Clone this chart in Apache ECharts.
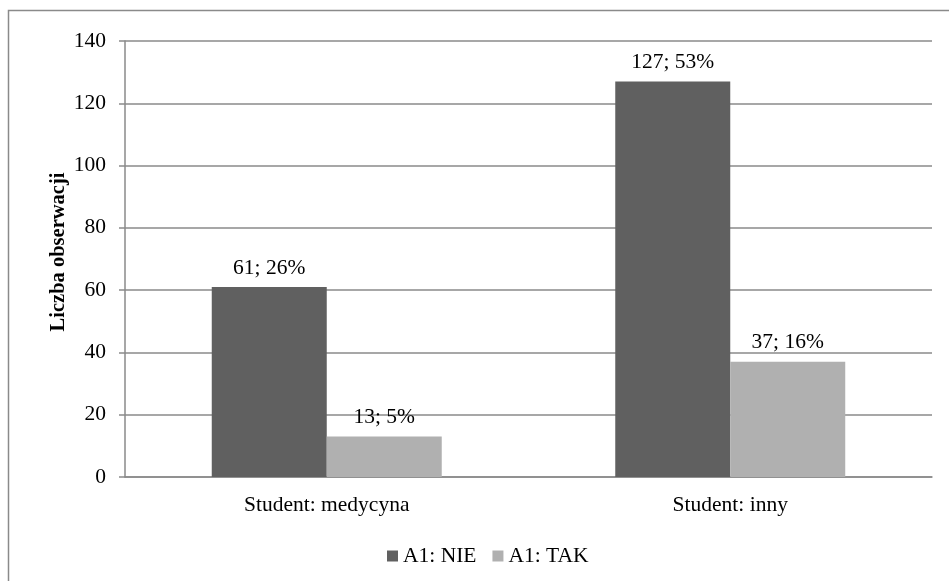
<!DOCTYPE html>
<html>
<head>
<meta charset="utf-8">
<script src="https://cdn.jsdelivr.net/npm/echarts@6/dist/echarts.min.js"></script>
<style>
  html, body { margin: 0; padding: 0; background: #fff; }
  #chart { width: 949px; height: 581px; }
</style>
</head>
<body>
<div id="chart"></div>
<script>
const categories = ['Student: medycyna', 'Student: inny'];
const nieValues = [61, 127];
const nieShares = ['26%', '53%'];
const takValues = [13, 37];
const takShares = ['5%', '16%'];
const seriesNames = ['A1: NIE', 'A1: TAK'];
const yTicks = [0, 20, 40, 60, 80, 100, 120, 140];
const yTitle = 'Liczba obserwacji';

const font = 'Liberation Serif, Times New Roman, serif';
const gridColor = '#8a8a8a';
const fs = 21.5;

const chart = echarts.init(document.getElementById('chart'));
const option = {
  animation: false,
  textStyle: { fontFamily: font, color: '#000' },
  graphic: [
    {
      type: 'rect',
      shape: { x: 8.5, y: 10.5, width: 1000, height: 1000 },
      style: { fill: 'none', stroke: '#8a8a8a', lineWidth: 1.5 },
      silent: true
    },
    {
      // y axis title, placed by hand (axis name gets pushed by labels)
      type: 'text',
      x: 59,
      y: 252,
      rotation: Math.PI / 2,
      style: {
        text: yTitle,
        font: 'bold 20.5px ' + font,
        fill: '#000',
        align: 'center',
        verticalAlign: 'middle'
      },
      silent: true
    }
  ],
  grid: { left: 125, right: 17, top: 41, bottom: 104 },
  legend: {
    left: 382,
    top: 540,
    itemWidth: 11,
    itemHeight: 11,
    itemGap: 16,
    icon: 'rect',
    textStyle: { fontFamily: font, fontSize: fs, color: '#000' },
    data: seriesNames
  },
  xAxis: {
    type: 'category',
    data: categories,
    axisLine: { lineStyle: { color: gridColor, width: 1.5 } },
    axisTick: { show: false },
    axisLabel: { fontFamily: font, fontSize: fs, color: '#000', margin: 17 }
  },
  yAxis: {
    type: 'value',
    min: yTicks[0],
    max: yTicks[yTicks.length - 1],
    interval: 20,
    axisLine: { show: true, lineStyle: { color: gridColor, width: 1.5 } },
    axisTick: { show: true, length: 6, lineStyle: { color: gridColor, width: 1.5 } },
    axisLabel: { fontFamily: font, fontSize: fs, color: '#000', margin: 19 },
    splitLine: { lineStyle: { color: gridColor, width: 1.5 } }
  },
  series: [
    {
      name: seriesNames[0],
      type: 'bar',
      data: nieValues,
      barGap: '0%',
      barCategoryGap: '43%',
      itemStyle: { color: '#606060' },
      label: {
        show: true,
        position: 'top',
        distance: 8,
        fontFamily: font,
        fontSize: fs,
        color: '#000',
        formatter: (p) => p.value + '; ' + nieShares[p.dataIndex]
      }
    },
    {
      name: seriesNames[1],
      type: 'bar',
      data: takValues,
      barGap: '0%',
      barCategoryGap: '43%',
      itemStyle: { color: '#b0b0b0' },
      label: {
        show: true,
        position: 'top',
        distance: 8,
        fontFamily: font,
        fontSize: fs,
        color: '#000',
        formatter: (p) => p.value + '; ' + takShares[p.dataIndex]
      }
    }
  ]
};
chart.setOption(option);
</script>
</body>
</html>
